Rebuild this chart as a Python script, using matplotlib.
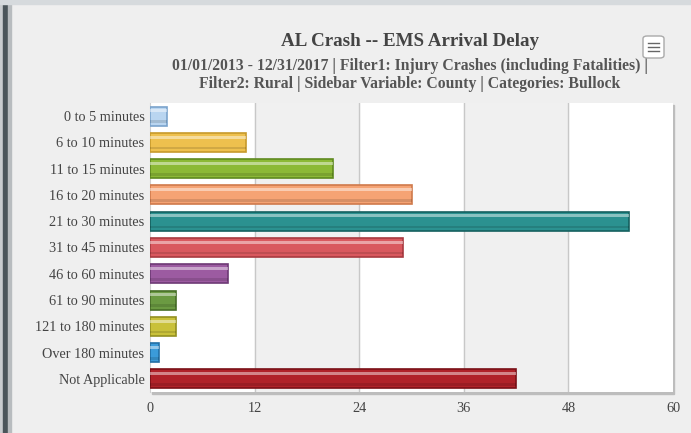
import numpy as np
import matplotlib.pyplot as plt
from matplotlib.patches import Rectangle, FancyBboxPatch

categories = ["0 to 5 minutes", "6 to 10 minutes", "11 to 15 minutes", "16 to 20 minutes",
              "21 to 30 minutes", "31 to 45 minutes", "46 to 60 minutes", "61 to 90 minutes",
              "121 to 180 minutes", "Over 180 minutes", "Not Applicable"]
counts = [2, 11, 21, 30, 55, 29, 9, 3, 3, 1, 42]
bar_colors = ["#b9d5f0", "#eec04e", "#8cb936", "#f5a374", "#2b9190", "#d9585e",
              "#9c5ba1", "#6b9a42", "#c9c13a", "#3b9bd9", "#b02229"]
edge_colors = ["#7aa3cc", "#c79a2c", "#5f8a20", "#cf7a4c", "#15605f", "#a83a40",
               "#6e3a75", "#476e28", "#949020", "#226fa5", "#7a1017"]
xticks = [0, 12, 24, 36, 48, 60]

title = "AL Crash -- EMS Arrival Delay"
subtitle = ("01/01/2013 - 12/31/2017 | Filter1: Injury Crashes (including Fatalities) |\n"
            "Filter2: Rural | Sidebar Variable: County | Categories: Bullock")

plt.rcParams['font.family'] = ['Liberation Serif', 'DejaVu Serif']

fig = plt.figure(figsize=(6.91, 4.33), dpi=100)
fig.patch.set_facecolor("#efefef")

# window frame bits
fig.patches.append(Rectangle((0, 0), 3 / 691, 1, transform=fig.transFigure, color="#c9cccf", zorder=0))
fig.patches.append(Rectangle((3 / 691, 0), 5 / 691, 1, transform=fig.transFigure, color="#4b555a", zorder=0))
fig.patches.append(Rectangle((8 / 691, 0), 3 / 691, 1, transform=fig.transFigure, color="#b8bcbf", zorder=0))
fig.patches.append(Rectangle((0, 1 - 4 / 433), 1, 4 / 433, transform=fig.transFigure, color="#d6dadd", zorder=0))

ax = fig.add_axes([150 / 691, 41 / 433, 523 / 691, 289 / 433])
ax.set_zorder(2)

# shadow of plot area
fig.patches.append(Rectangle((151.5 / 691, 39.5 / 433), 523 / 691, 289 / 433,
                             transform=fig.transFigure, color="#bdbdbd", zorder=0.5))

ax.set_facecolor("white")
for i in range(1, len(xticks) - 1, 2):
    ax.axvspan(xticks[i], xticks[i + 1], color="#f0f0f0", zorder=0)
for x in xticks[1:-1]:
    ax.axvline(x, color="#c8c8c8", lw=1, zorder=1)

y = np.arange(len(categories))
h = 0.72
ax.barh(y, counts, height=h, color=bar_colors, edgecolor=edge_colors, linewidth=1.2, zorder=3)
# glossy look: light band near the top, darker band near the bottom
ax.barh(y - h * 0.28, counts, height=h * 0.16, color="white", alpha=0.45, linewidth=0, zorder=4)
ax.barh(y + h * 0.30, counts, height=h * 0.14, color="black", alpha=0.12, linewidth=0, zorder=4)

ax.set_xlim(0, 60)
ax.set_ylim(len(categories) - 0.5, -0.5)
ax.set_xticks(xticks)
ax.set_yticks(y)
ax.set_yticklabels(categories)
ax.tick_params(axis='both', length=0, labelsize=10.3, colors="#444444")
ax.tick_params(axis='y', pad=4)
ax.tick_params(axis='x', pad=7)
for s in ax.spines.values():
    s.set_visible(False)
ax.spines['left'].set_visible(True)
ax.spines['left'].set_color("#d0d0d0")

fig.text(410 / 691, 1 - 41 / 433, title, ha="center", va="center", fontsize=13.7,
         fontweight="bold", color="#444444")
fig.text(410 / 691, 1 - 75 / 433, subtitle, ha="center", va="center", fontsize=11.3,
         fontweight="bold", color="#555555", linespacing=1.22)

# menu button
fig.patches.append(FancyBboxPatch((643 / 691, 1 - 58 / 433), 21 / 691, 22 / 433,
                                  boxstyle="round,pad=0,rounding_size=0.006",
                                  transform=fig.transFigure, facecolor="white",
                                  edgecolor="#aaaaaa", lw=1, zorder=5))
for dy in (-4, 0, 4):
    fig.add_artist(plt.Line2D([648 / 691, 659 / 691], [1 - (47 + dy) / 433] * 2,
                              transform=fig.transFigure, color="#666666", lw=1, zorder=6))

fig.savefig("out.png", dpi=100, facecolor=fig.get_facecolor())
